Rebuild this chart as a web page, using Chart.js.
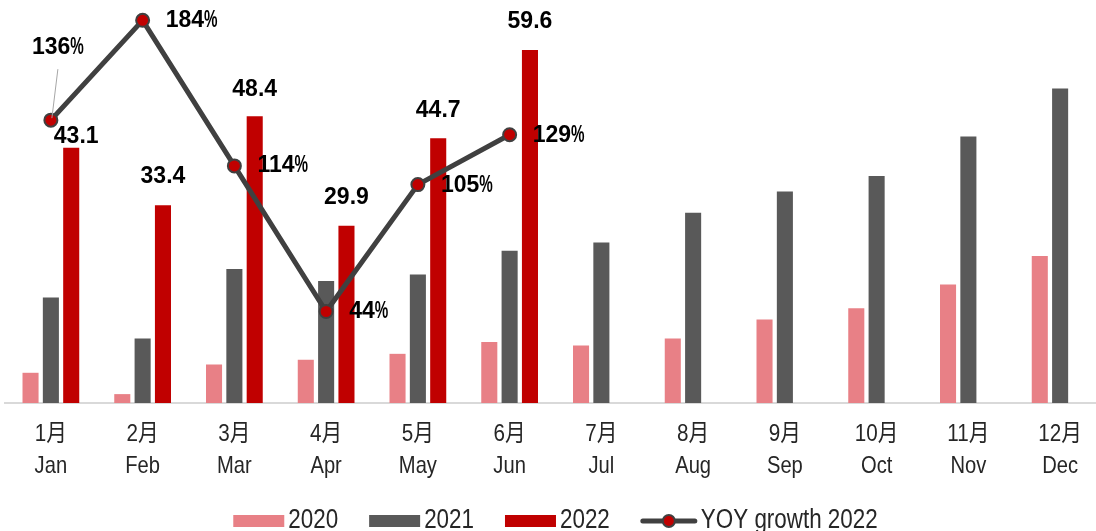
<!DOCTYPE html>
<html lang="zh">
<head>
  <meta charset="UTF-8" />
  <title>2022 月度销量</title>
  <script src="https://cdn.jsdelivr.net/npm/chart.js"></script>
  <style>
    html, body { margin: 0; padding: 0; background: #fff; overflow: hidden; }
    #wrap { position: absolute; left: 0; top: 0; width: 1110px; height: 531px; }
  </style>
</head>
<body>
  <div id="wrap"><canvas id="salesChart" width="1110" height="531"></canvas></div>

  <script>
    const monthsCn = ['1月', '2月', '3月', '4月', '5月', '6月', '7月', '8月', '9月', '10月', '11月', '12月'];
    const monthsEn = ['Jan', 'Feb', 'Mar', 'Apr', 'May', 'Jun', 'Jul', 'Aug', 'Sep', 'Oct', 'Nov', 'Dec'];
    const sales2020 = [5.1, 1.5, 6.5, 7.3, 8.3, 10.3, 9.7, 10.9, 14.1, 16.0, 20.0, 24.8];
    const sales2021 = [17.8, 10.9, 22.6, 20.6, 21.7, 25.7, 27.1, 32.1, 35.7, 38.3, 45.0, 53.1];
    const sales2022 = [43.1, 33.4, 48.4, 29.9, 44.7, 59.6, null, null, null, null, null, null];
    const yoy2022 = [136, 184, 114, 44, 105, 129, null, null, null, null, null, null];

    // label placement tweaks (dx, dy) relative to the bar top / point
    const barLabelShift = [[5, -11], [0, -28], [0, -27], [0, -28], [0, -28], [0, -28]];
    const yoyLabelShift = [[7, -72], [23, 0], [23, 0], [23, 0], [23, 1], [23, 1]];

    const textFont = '"Liberation Sans", "Noto Sans CJK SC", sans-serif';
    const numFont = '"Liberation Sans", Arial, sans-serif';

    // draw text squeezed horizontally (the original uses a narrow face)
    function narrowText(ctx, text, x, y, sx) {
      ctx.save();
      ctx.translate(x, y);
      ctx.scale(sx, 1);
      ctx.fillText(text, 0, 0);
      ctx.restore();
    }

    const monthTicks = {
      id: 'monthTicks',
      afterDraw(chart) {
        const ctx = chart.ctx;
        const xs = chart.scales.x;
        const base = chart.chartArea.bottom;
        ctx.save();
        ctx.fillStyle = '#262626';
        ctx.textAlign = 'center';
        ctx.textBaseline = 'middle';
        ctx.font = '24px ' + textFont;
        monthsCn.forEach((m, i) => {
          const x = xs.getPixelForTick(i);
          narrowText(ctx, m, x, base + 31, 0.86);
          narrowText(ctx, monthsEn[i], x, base + 63, 0.84);
        });
        ctx.restore();
      }
    };

    const valueLabels = {
      id: 'valueLabels',
      afterDatasetsDraw(chart) {
        const ctx = chart.ctx;
        ctx.save();
        ctx.fillStyle = '#000';
        ctx.textBaseline = 'middle';

        // 2022 bar values
        ctx.font = 'bold 23px ' + numFont;
        ctx.textAlign = 'center';
        chart.getDatasetMeta(2).data.forEach((bar, i) => {
          if (sales2022[i] == null) return;
          const s = barLabelShift[i];
          ctx.fillText(sales2022[i].toFixed(1), bar.x + s[0], bar.y + s[1]);
        });

        // yoy percentages
        ctx.textAlign = 'left';
        const pctScale = 0.66;
        chart.getDatasetMeta(3).data.forEach((pt, i) => {
          if (yoy2022[i] == null) return;
          const s = yoyLabelShift[i];
          const num = String(yoy2022[i]);
          const w1 = ctx.measureText(num).width;
          const w2 = ctx.measureText('%').width * pctScale;
          let x = pt.x + s[0];
          const y = pt.y + s[1];
          if (i === 0) {
            x -= (w1 + w2) / 2;
            ctx.strokeStyle = '#a6a6a6';
            ctx.lineWidth = 1;
            ctx.beginPath();
            ctx.moveTo(pt.x + s[0], y + 21);
            ctx.lineTo(pt.x + 1, pt.y - 2);
            ctx.stroke();
          }
          ctx.fillText(num, x, y);
          narrowText(ctx, '%', x + w1, y, pctScale);
        });
        ctx.restore();
      }
    };

    const bottomLegend = {
      id: 'bottomLegend',
      afterDraw(chart) {
        const ctx = chart.ctx;
        const area = chart.chartArea;
        const sx = 0.83;
        ctx.save();
        ctx.font = '27px ' + textFont;
        ctx.textBaseline = 'middle';
        ctx.textAlign = 'left';
        const items = chart.data.datasets.map(ds => {
          const isLine = ds.type === 'line';
          const symW = isLine ? 56 : 51;
          return { ds, isLine, symW, w: symW + 4 + ctx.measureText(ds.label).width * sx };
        });
        const gap = 31;
        const total = items.reduce((a, it) => a + it.w, 0) + gap * (items.length - 1);
        let x = (area.left + area.right) / 2 - total / 2;
        const y = chart.height - 10;
        items.forEach(it => {
          if (it.isLine) {
            ctx.strokeStyle = it.ds.borderColor;
            ctx.lineWidth = 5;
            ctx.lineCap = 'round';
            ctx.beginPath();
            ctx.moveTo(x + 2, y);
            ctx.lineTo(x + it.symW - 2, y);
            ctx.stroke();
            ctx.beginPath();
            ctx.arc(x + it.symW / 2, y, 6, 0, Math.PI * 2);
            ctx.fillStyle = it.ds.pointBackgroundColor;
            ctx.fill();
            ctx.lineWidth = 2;
            ctx.stroke();
          } else {
            ctx.fillStyle = it.ds.backgroundColor;
            ctx.fillRect(x, y - 6, it.symW, 12);
          }
          ctx.fillStyle = '#262626';
          narrowText(ctx, it.ds.label, x + it.symW + 4, y, sx);
          x += it.w + gap;
        });
        ctx.restore();
      }
    };

    const ctx = document.getElementById('salesChart').getContext('2d');
    new Chart(ctx, {
      data: {
        labels: monthsCn.map((m, i) => m + ' ' + monthsEn[i]),
        datasets: [
          { type: 'bar', label: '2020', data: sales2020, backgroundColor: '#e88086', order: 1 },
          { type: 'bar', label: '2021', data: sales2021, backgroundColor: '#595959', order: 1 },
          { type: 'bar', label: '2022', data: sales2022, backgroundColor: '#c00000', order: 1 },
          {
            type: 'line', label: 'YOY growth 2022', data: yoy2022, yAxisID: 'y2', order: 0,
            borderColor: '#404040', borderWidth: 5,
            pointRadius: 6.5, pointBackgroundColor: '#c00000', pointBorderColor: '#404040', pointBorderWidth: 2
          }
        ]
      },
      options: {
        responsive: false,
        animation: false,
        datasets: { bar: { categoryPercentage: 0.665, barPercentage: 0.79 } },
        layout: { autoPadding: false, padding: { left: 5, right: 4, top: 12, bottom: 0 } },
        plugins: { legend: { display: false }, tooltip: { enabled: false } },
        scales: {
          x: {
            grid: { display: false },
            border: { display: true, color: '#d9d9d9', width: 2 },
            ticks: { display: false },
            afterFit(scale) { scale.height = 128; }
          },
          y: { display: false, min: 0, max: 66 },
          y2: { display: false, min: 0, max: 188, position: 'right' }
        }
      },
      plugins: [monthTicks, valueLabels, bottomLegend]
    });
  </script>
</body>
</html>
